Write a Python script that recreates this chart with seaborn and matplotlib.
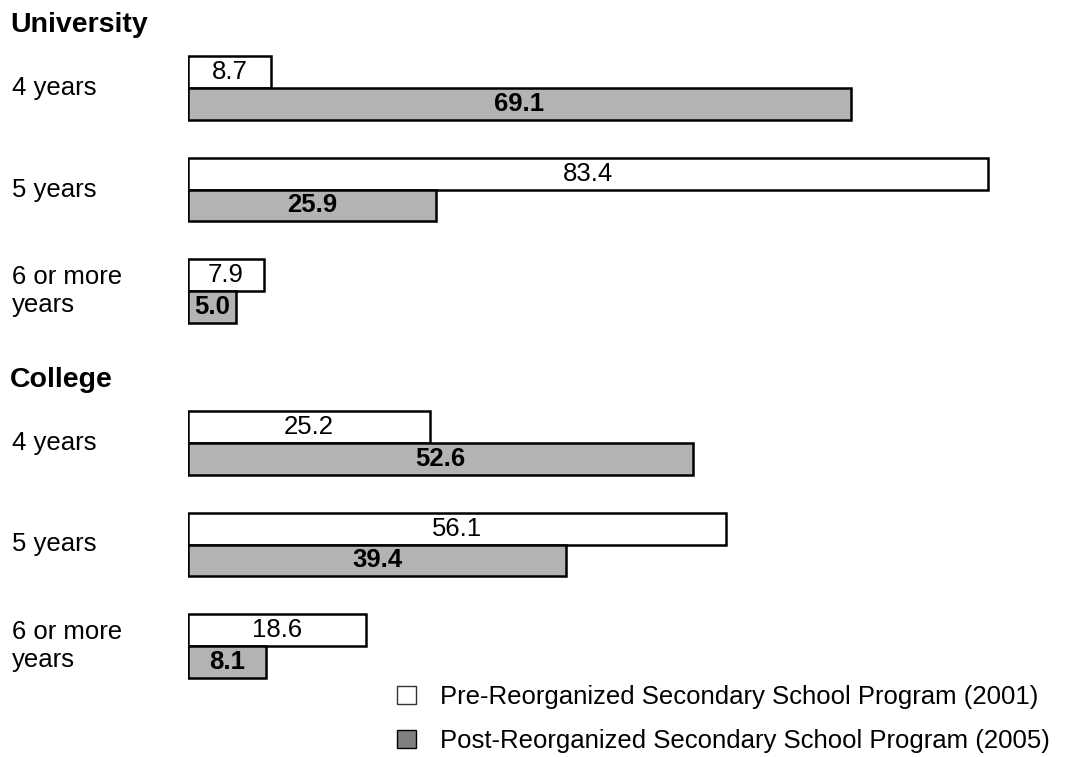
import matplotlib
matplotlib.use("Agg")
import matplotlib.pyplot as plt
import matplotlib.transforms as mtransforms
from matplotlib.patches import Patch
import seaborn as sns
import pandas as pd

# ---- data ----
levels = ["University", "College"]
durations = ["4 years", "5 years", "6 or more\nyears"]
programs = ["Pre-Reorganized Secondary School Program (2001)",
            "Post-Reorganized Secondary School Program (2005)"]
university_pre = [8.7, 83.4, 7.9]
university_post = [69.1, 25.9, 5.0]
college_pre = [25.2, 56.1, 18.6]
college_post = [52.6, 39.4, 8.1]

series = {
    "University": (university_pre, university_post),
    "College": (college_pre, college_post),
}
rows = []
for lvl in levels:
    pre, post = series[lvl]
    for d, v in zip(durations, pre):
        rows.append({"level": lvl, "duration": d, "program": programs[0], "value": v})
    for d, v in zip(durations, post):
        rows.append({"level": lvl, "duration": d, "program": programs[1], "value": v})
df = pd.DataFrame(rows)

# ---- style ----
sns.set_style("white")
plt.rcParams["font.family"] = ["Liberation Sans", "DejaVu Sans"]
plt.rcParams["text.color"] = "black"

W, H = 1075, 757
fig = plt.figure(figsize=(W / 100, H / 100), dpi=100)

px_per_unit = 9.592
left_px = 188
xmax = (W - left_px) / px_per_unit
spacing = 101.5
tops = {"University": 88 - spacing / 2, "College": 443 - spacing / 2}
header_baseline = {"University": 32, "College": 387}

palette = {programs[0]: "white", programs[1]: "#b3b3b3"}
FS = 18.5

for lvl in levels:
    top = tops[lvl]
    hgt = 3 * spacing
    ax = fig.add_axes([left_px / W, (H - top - hgt) / H, (W - left_px) / W, hgt / H])
    sub = df[df["level"] == lvl]
    sns.barplot(data=sub, y="duration", x="value", hue="program", orient="h",
                order=durations, hue_order=programs, palette=palette,
                edgecolor="black", linewidth=1.8, width=0.63, legend=False,
                errorbar=None, ax=ax)
    ax.set_xlim(0, xmax)
    ax.set_ylim(2.5, -0.5)
    for i, cont in enumerate(ax.containers):
        ax.bar_label(cont, fmt="%.1f", label_type="center", fontsize=FS,
                     fontweight="bold" if i == 1 else "normal", color="black")
    ax.set_axis_off()
    trans = mtransforms.blended_transform_factory(fig.transFigure, ax.transData)
    for j, d in enumerate(durations):
        ax.text(12 / W, j, d, transform=trans, ha="left", va="center",
                fontsize=FS, linespacing=1.25, color="black")
    fig.text(10 / W, (H - header_baseline[lvl]) / H, lvl, ha="left", va="baseline",
             fontsize=20.5, fontweight="bold", color="black")

handles = [Patch(facecolor="white", edgecolor="#333333", linewidth=1.0),
           Patch(facecolor="#808080", edgecolor="black", linewidth=1.0)]
fig.legend(handles, programs, loc="upper left", bbox_to_anchor=(397 / W, (H - 685) / H),
           frameon=False, fontsize=FS, handlelength=0.72, handleheight=0.72,
           handletextpad=0.95, labelspacing=0.78, borderpad=0, borderaxespad=0,
           labelcolor="black")

fig.savefig("out.png", dpi=100, facecolor="white")
